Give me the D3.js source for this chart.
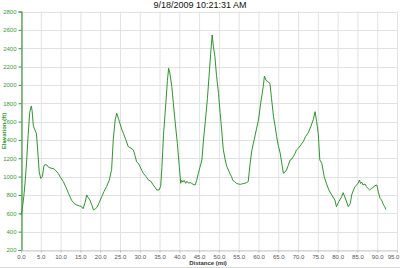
<!DOCTYPE html>
<html><head><meta charset="utf-8">
<script src="https://cdn.jsdelivr.net/npm/d3@7"></script>
<style>body{margin:0;background:#fff}svg{display:block}</style>
</head><body><svg id="c" width="400" height="268"></svg>
<script>
const title = "9/18/2009 10:21:31 AM";
const xLabel = "Distance (mi)";
const yLabel = "Elevation (ft)";
const xTicks = [0,5,10,15,20,25,30,35,40,45,50,55,60,65,70,75,80,85,90,95];
const yTicks = [200,400,600,800,1000,1200,1400,1600,1800,2000,2200,2400,2600,2800];
const distance = [0,0.3,0.7,1.0,1.4,1.8,2.2,2.6,2.8,3.1,3.4,3.9,4.2,4.6,5.0,5.4,5.8,6.1,6.6,7.0,7.4,7.8,8.3,8.7,9.4,10.0,10.7,11.4,12.0,12.8,13.5,14.1,14.8,15.3,15.7,16.2,16.6,17.0,17.4,17.9,18.3,18.8,19.2,19.8,20.4,21.0,21.6,22.3,22.9,23.3,23.8,24.2,24.7,25.0,25.5,25.9,26.5,27.1,27.8,28.4,28.8,29.2,29.7,30.1,30.5,30.9,31.6,32.2,32.8,33.4,33.9,34.3,34.9,35.3,35.6,36.0,36.6,37.0,37.3,37.6,38.1,38.5,38.9,39.5,40.0,40.35,40.6,40.9,41.2,41.6,41.9,42.3,42.7,43.1,43.5,44.0,44.4,44.8,45.2,45.7,46.1,46.6,47.1,47.5,47.9,48.3,48.6,49.0,49.4,49.9,50.3,50.7,51.1,51.6,52.0,52.4,52.8,53.2,53.5,54.0,54.4,54.9,55.4,55.8,56.2,56.6,57.0,57.4,57.9,58.3,58.9,59.5,60.0,60.55,61.2,61.5,61.9,62.4,62.9,63.3,63.8,64.2,64.6,65.0,65.5,65.9,66.3,66.7,67.1,67.5,68.0,68.4,68.8,69.2,69.6,70.1,70.7,71.3,71.9,72.6,73.2,73.85,74.3,74.7,75.1,75.5,76.0,76.6,77.2,77.8,78.5,79.3,79.7,80.3,81.0,81.4,82.1,82.7,83.2,83.55,84.0,84.4,84.8,85.2,85.5,85.8,86.1,86.4,86.9,87.3,87.7,88.1,88.5,88.9,89.4,89.9,90.3,90.7,91.1,91.5,91.9,92.2];
const elevation = [580,640,780,920,1150,1450,1700,1770,1720,1560,1520,1470,1300,1050,980,1000,1120,1130,1125,1100,1095,1090,1085,1070,1035,990,945,880,818,740,705,690,680,672,650,720,800,770,745,690,636,650,665,720,781,840,890,960,1080,1400,1620,1690,1620,1580,1510,1470,1400,1327,1310,1290,1230,1163,1140,1108,1070,1036,1000,963,950,909,880,854,854,900,1100,1450,1800,2050,2181,2130,1980,1800,1617,1363,1108,927,960,940,960,927,950,930,935,927,915,909,960,1036,1100,1181,1400,1617,1850,2090,2330,2544,2420,2307,2100,1908,1700,1508,1300,1181,1110,1072,1030,1000,960,945,927,920,916,920,925,927,935,945,1145,1280,1400,1520,1617,1800,1980,2097,2050,2035,2017,1850,1654,1550,1436,1340,1254,1140,1036,1050,1072,1120,1181,1190,1217,1250,1290,1310,1345,1380,1436,1480,1544,1620,1708,1600,1472,1181,1145,1000,920,854,800,745,672,727,780,825,745,672,708,800,854,890,909,930,963,925,940,909,920,890,870,854,870,880,900,909,830,764,745,700,672,640,618,600];

const svg = d3.select("#c");
const W = 400, H = 268;
const x0 = 21, x1 = 397, y0 = 11.5, y1 = 250;
const x = d3.scaleLinear().domain([0,95]).range([x0,x1]);
const y = d3.scaleLinear().domain([200,2800]).range([y1,y0]);
const green = "#3a9a3a";

// gridlines
svg.append("g").selectAll("line.v").data(xTicks).enter().append("line")
  .attr("x1",d=>x(d)+0.5).attr("x2",d=>x(d)+0.5).attr("y1",y0).attr("y2",y1)
  .attr("stroke","#e2e2e2").attr("stroke-width",1);
svg.append("g").selectAll("line.h").data(yTicks).enter().append("line")
  .attr("x1",x0).attr("x2",x1).attr("y1",d=>Math.round(y(d))+0.5).attr("y2",d=>Math.round(y(d))+0.5)
  .attr("stroke","#e2e2e2").attr("stroke-width",1);

// y axis
const yAxis = d3.axisLeft(y).tickValues(yTicks).tickSize(3).tickPadding(2).tickFormat(d3.format("d"));
const gy = svg.append("g").attr("transform",`translate(${x0+0.5},0)`).call(yAxis);
gy.select(".domain").attr("stroke",green).attr("stroke-width",1.2);
gy.selectAll(".tick line").attr("stroke",green);
gy.selectAll(".tick text").attr("fill",green).attr("font-family","Liberation Sans, Arial, sans-serif").attr("font-size",6);

// x axis
const xAxis = d3.axisBottom(x).tickValues(xTicks).tickSize(2).tickPadding(2).tickFormat(d3.format(".1f"));
const gx = svg.append("g").attr("transform",`translate(0,${y1+0.5})`).call(xAxis);
gx.select(".domain").attr("stroke","#cfcfcf");
gx.selectAll(".tick line").attr("stroke","#bbb");
gx.selectAll(".tick text").attr("fill","#555").attr("font-family","Liberation Sans, Arial, sans-serif").attr("font-size",6);
gx.selectAll(".tick text").filter(d=>d===95).attr("dx",-4);

// line
const line = d3.line().x((d,i)=>x(distance[i])).y(d=>y(d));
svg.append("path").datum(elevation).attr("d",line).attr("fill","none")
  .attr("stroke","#2e962e").attr("stroke-width",1).attr("stroke-linejoin","round");

// title
svg.append("text").attr("x",200).attr("y",8).attr("text-anchor","middle")
  .attr("font-family","Liberation Sans, Arial, sans-serif").attr("font-size",9).attr("fill","#111").text(title);
// x label
svg.append("text").attr("x",208).attr("y",265).attr("text-anchor","middle")
  .attr("font-family","Liberation Sans, Arial, sans-serif").attr("font-size",6).attr("font-weight","bold").attr("fill","#333").text(xLabel);
// y label
svg.append("text").attr("transform","translate(6,131) rotate(-90)").attr("text-anchor","middle")
  .attr("font-family","Liberation Sans, Arial, sans-serif").attr("font-size",6).attr("font-weight","bold").attr("fill",green).text(yLabel);
// bottom border
svg.append("line").attr("x1",0).attr("x2",W).attr("y1",267.5).attr("y2",267.5).attr("stroke","#d8d8d8");
</script></body></html>
